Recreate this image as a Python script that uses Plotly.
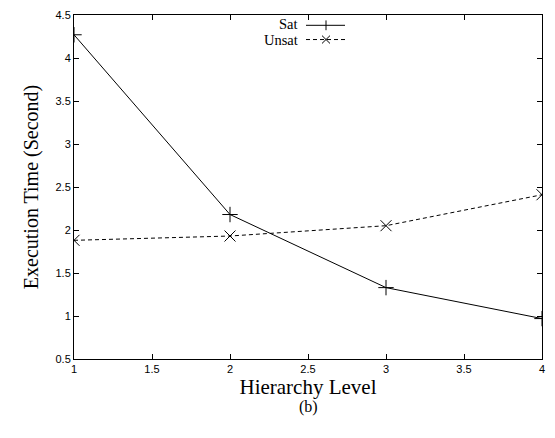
import plotly.graph_objects as go

levels = [1, 2, 3, 4]
sat_times = [4.27, 2.18, 1.33, 0.97]
unsat_times = [1.88, 1.93, 2.05, 2.41]
x_ticks = [1, 1.5, 2, 2.5, 3, 3.5, 4]
y_ticks = [0.5, 1, 1.5, 2, 2.5, 3, 3.5, 4, 4.5]

fig = go.Figure()
fig.add_trace(go.Scatter(x=levels, y=sat_times, mode="lines+markers", name="Sat",
                         line=dict(color="black", width=1),
                         marker=dict(symbol="cross-thin-open", size=11, color="black",
                                     line=dict(width=1, color="black"))))
fig.add_trace(go.Scatter(x=levels, y=unsat_times, mode="lines+markers", name="Unsat",
                         line=dict(color="black", width=1, dash="4px,3px"),
                         marker=dict(symbol="x-thin-open", size=11, color="black",
                                     line=dict(width=1, color="black"))))

axis_common = dict(showline=True, linecolor="black", linewidth=1, mirror="ticks",
                   ticks="inside", ticklen=5, tickcolor="black", showgrid=False,
                   zeroline=False, tickfont=dict(family="Liberation Sans, Arial", size=11, color="black"))

fig.update_xaxes(range=[1, 4], tickvals=x_ticks, ticktext=[f"{v:g}" for v in x_ticks],
                 title=dict(text="Hierarchy Level", font=dict(family="Liberation Serif", size=21, color="black"), standoff=2),
                 **axis_common)
fig.update_yaxes(range=[0.5, 4.5], tickvals=y_ticks, ticktext=[f"{v:g}" for v in y_ticks],
                 title=dict(text="Execution Time (Second)", font=dict(family="Liberation Serif", size=20, color="black"), standoff=11),
                 **axis_common)

def px(xp):
    return (xp - 74) / 468

def py(yp):
    return (359.5 - yp) / 350.5

# legend (gnuplot style: label then sample)
serif = dict(family="Liberation Serif", size=14.5, color="black")
fig.add_annotation(xref="paper", yref="paper", x=px(300), y=py(18),
                   text="Sat", showarrow=False, xanchor="right", yanchor="middle", font=serif)
fig.add_annotation(xref="paper", yref="paper", x=px(300), y=py(34),
                   text="Unsat", showarrow=False, xanchor="right", yanchor="middle", font=serif)

shapes = []
# Sat sample
shapes.append(dict(type="line", xref="paper", yref="paper", x0=px(306), x1=px(345), y0=py(19.5), y1=py(19.5),
                   line=dict(color="black", width=1)))
shapes.append(dict(type="line", xref="paper", yref="paper", x0=px(326), x1=px(326), y0=py(14.5), y1=py(24.5),
                   line=dict(color="black", width=1)))
# Unsat sample
shapes.append(dict(type="line", xref="paper", yref="paper", x0=px(306), x1=px(345), y0=py(34), y1=py(34),
                   line=dict(color="black", width=1, dash="4px,3px")))
shapes.append(dict(type="line", xref="paper", yref="paper", x0=px(322), x1=px(330), y0=py(30), y1=py(38),
                   line=dict(color="black", width=1)))
shapes.append(dict(type="line", xref="paper", yref="paper", x0=px(322), x1=px(330), y0=py(38), y1=py(30),
                   line=dict(color="black", width=1)))
fig.update_layout(shapes=shapes)

fig.add_annotation(xref="paper", yref="paper", x=0.5, y=py(408), text="(b)", showarrow=False,
                   xanchor="center", yanchor="middle",
                   font=dict(family="Liberation Serif", size=16, color="black"))

fig.update_layout(width=555, height=438, showlegend=False,
                  margin=dict(l=74, r=13, t=9, b=78.5),
                  plot_bgcolor="white", paper_bgcolor="white")

fig.write_html("out.html")
